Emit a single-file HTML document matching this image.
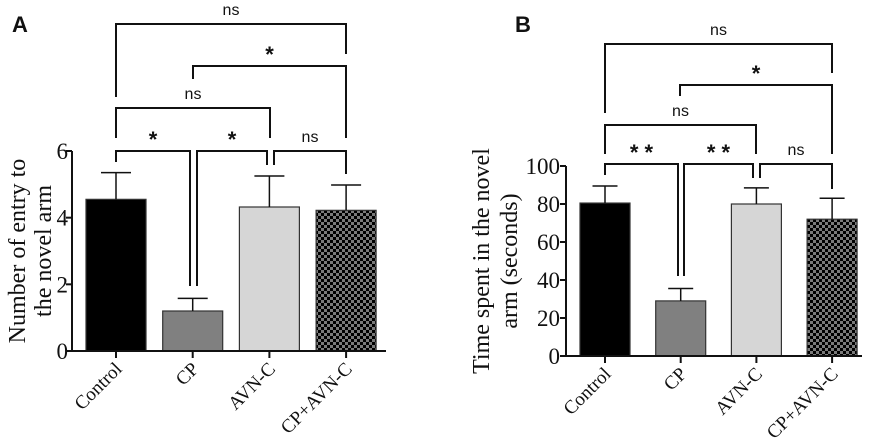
<!DOCTYPE html>
<html><head><meta charset="utf-8"><style>
body{margin:0;background:#fff}
svg{display:block}
.t{font-family:"Liberation Serif",serif;fill:#111}
.s{font-family:"Liberation Sans",sans-serif;fill:#111}
</style></head><body>
<svg id="c" width="872" height="444" viewBox="0 0 872 444" xmlns="http://www.w3.org/2000/svg">
<defs><pattern id="chk" width="6" height="6" patternUnits="userSpaceOnUse"><rect width="6" height="6" fill="#7a7a7a"/><rect width="3" height="3" fill="#000"/><rect x="3" y="3" width="3" height="3" fill="#000"/></pattern></defs>
</svg>
<script>
const categories=["Control","CP","AVN-C","CP+AVN-C"];
const entryMeans=[4.55,1.2,4.32,4.22];
const entryErr=[0.8,0.38,0.93,0.76];
const entryTicks=[0,2,4,6];
const timeMeans=[80.5,29,80,72];
const timeErr=[9,6.5,8.5,11];
const timeTicks=[0,20,40,60,80,100];
const fills=["#000","#808080","#d6d6d6","url(#chk)"];
const NS="http://www.w3.org/2000/svg";
const svg=document.getElementById('c');
function mk(tag,a,parent){const e=document.createElementNS(NS,tag);for(const k in a)e.setAttribute(k,a[k]);(parent||svg).appendChild(e);return e;}
function line(x1,y1,x2,y2,g,name,w){const l=mk('line',{x1,y1,x2,y2,stroke:'#111','stroke-width':w||2},g);return l;}
function panel(o){
 const g=mk('g',{});
 
 
 const y=v=>o.y0-(v/o.max)*(o.y0-o.yTop);
 const x=i=>o.x0+i*o.step;
 const lt=mk('text',{x:o.letterX,y:32,class:'s','font-size':22,'font-weight':'bold'},g);lt.textContent=o.letter;
 
 o.means.forEach((m,i)=>{
  const cx=x(i);
  const r=mk('rect',{x:cx-o.bw/2,y:y(m),width:o.bw,height:o.y0-y(m),fill:fills[i],stroke:'#333','stroke-width':1.2},g);
  
  const top=y(m+o.err[i]);
  line(cx,y(m),cx,top,g,'error-bar',1.5);
  line(cx-o.bw/4,top,cx+o.bw/4,top,g,'error-cap',1.5);
  line(cx,o.y0,cx,o.y0+7,g,'x-tick');
  const tx=mk('text',{class:'t','font-size':19,'text-anchor':'end',transform:`translate(${cx+7},${o.y0+19}) rotate(-45)`},g);
  tx.textContent=categories[i];
 });
 line(o.axX,o.yTop,o.axX,o.y0,g,'y-axis');
 line(o.axX,o.y0,o.axEnd,o.y0,g,'x-axis');
 o.ticks.forEach(t=>{
  line(o.axX-6,y(t),o.axX,y(t),g,'y-tick');
  const tt=mk('text',{x:o.axX-o.tickGap,y:y(t)+8,class:'t','font-size':23,'text-anchor':'end'},g);
  tt.textContent=t;
 });
 o.title.forEach((s,k)=>{
  const tt=mk('text',{class:'t','font-size':24,'text-anchor':'middle',transform:`translate(${o.titleX+k*o.titleGap},${(o.yTop+o.y0)/2}) rotate(-90)`},g);
  tt.textContent=s;
 });
 o.br.forEach(b=>{
  const [x1,x2,yb,lb,rb,lab]=b;
  const p=mk('path',{d:`M${x1},${lb}V${yb}H${x2}V${rb}`,fill:'none',stroke:'#111','stroke-width':2},g);
  
  const star=lab.includes('*');
  const tt=mk('text',{x:(x1+x2)/2,y:star?yb-4:yb-9,class:'s','font-size':star?22:16,'font-weight':star?'bold':'normal','text-anchor':'middle'},g);
  tt.textContent=star?lab.split('').join(' '):lab;
  
 });
}
panel({name:'panel-a',letter:'A',letterX:12,x0:116,step:76.7,bw:60,y0:351,yTop:151,max:6,axX:72,axEnd:386,tickGap:4,means:entryMeans,err:entryErr,ticks:entryTicks,title:['Number of entry to','the novel arm'],titleX:25,titleGap:26,
 br:[[116,346,24,97,54,'ns'],[193,346,66,79,138,'*'],[116,270,108,138,138,'ns'],[116,190,151,162,286,'*'],[197,267,151,286,165,'*'],[274,346,151,165,174,'ns']]});
panel({name:'panel-b',letter:'B',letterX:515,x0:605,step:75.7,bw:50,y0:356,yTop:166,max:100,axX:566,axEnd:862,tickGap:6,means:timeMeans,err:timeErr,ticks:timeTicks,title:['Time spent in the novel','arm (seconds)'],titleX:489,titleGap:28,
 br:[[605,832,44,113,73,'ns'],[680,832,85,96,154,'*'],[605,756,125,154,154,'ns'],[605,678,164,175,276,'**'],[684,753,164,276,178,'**'],[760,832,164,178,189,'ns']]});
</script>
</body></html>
